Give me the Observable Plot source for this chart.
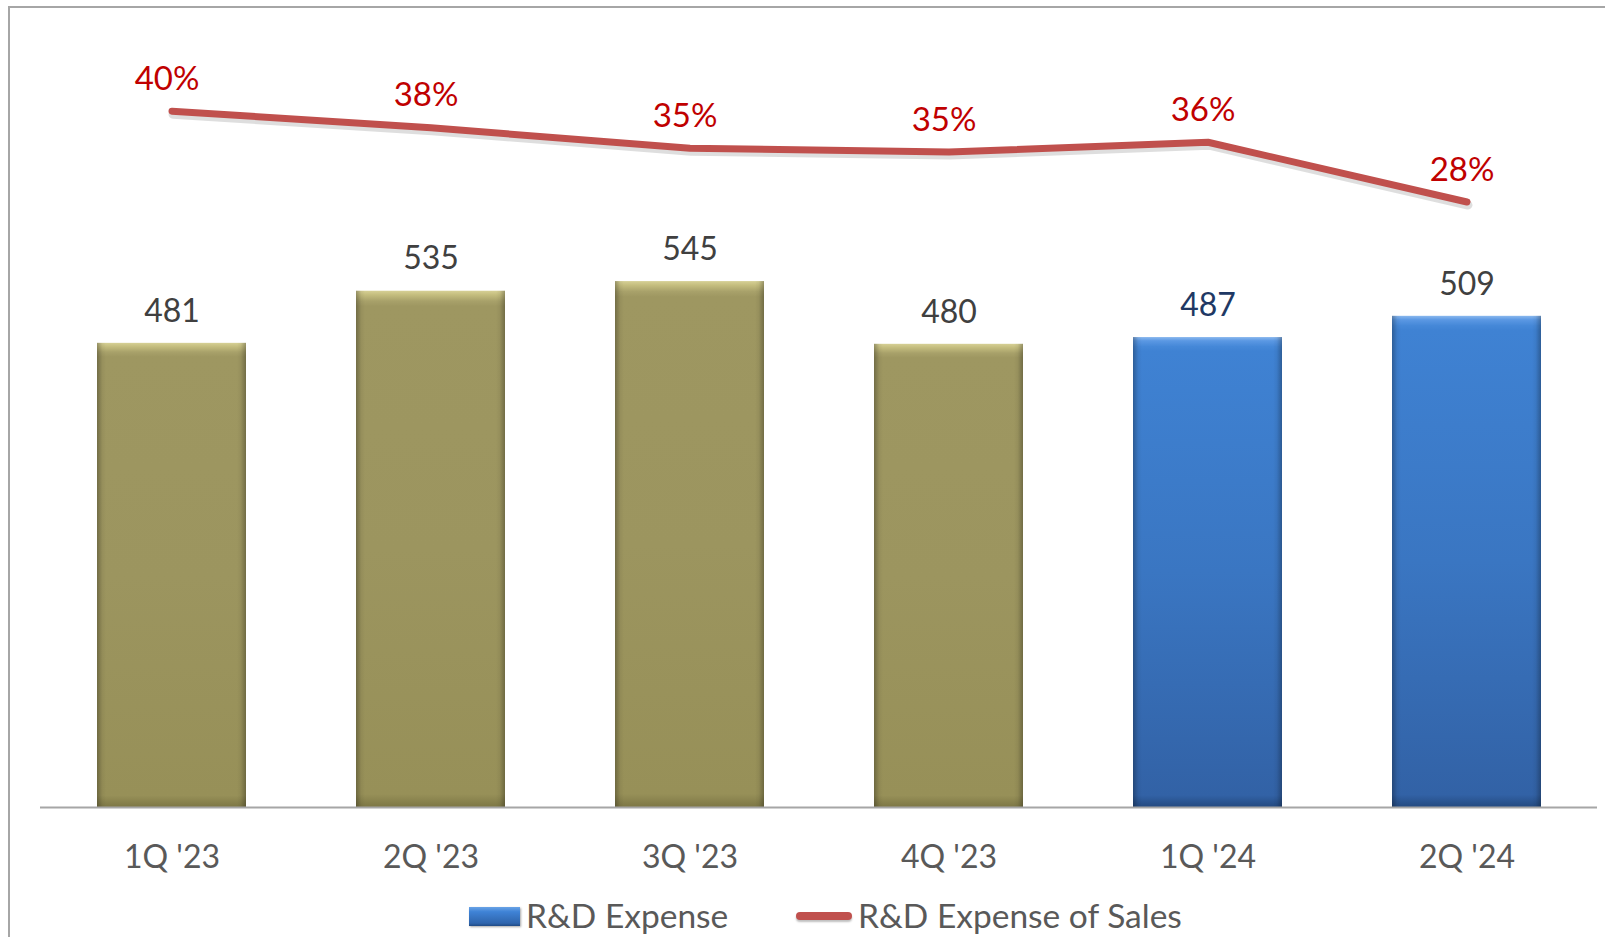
<!DOCTYPE html>
<html>
<head>
<meta charset="utf-8">
<script src="https://cdn.jsdelivr.net/npm/d3@7"></script>
<script src="https://cdn.jsdelivr.net/npm/@observablehq/plot@0.6"></script>
<style>
  html, body { margin: 0; padding: 0; background: #fff; overflow: hidden; width: 1605px; height: 937px; }
  #frame { position: absolute; left: 8px; top: 6px; width: 1700px; height: 1000px; border-left: 2px solid #a6a6a6; border-top: 2px solid #a6a6a6; }
  #chart { position: absolute; left: 0; top: 0; }
  .leg { position: absolute; font-family: Lato, "Open Sans", sans-serif; font-size: 33.5px; color: #595959; line-height: 1; white-space: nowrap; }
  .sw-bar { position: absolute; width: 51px; height: 19px; background: linear-gradient(#6aa3e6 0%, #3f83d6 25%, #2f65ad 85%, #1f4a85 100%); box-shadow: 1px 1px 2px rgba(0,0,0,0.35); }
  .sw-line { position: absolute; width: 56px; height: 8px; border-radius: 4px; background: #c0504d; box-shadow: 0 2px 2px rgba(0,0,0,0.25); }
</style>
</head>
<body>
<div id="frame"></div>
<div id="chart"></div>
<div class="sw-bar" style="left:469px; top:907px;"></div>
<div class="leg" style="left:526px; top:899px;">R&amp;D Expense</div>
<div class="sw-line" style="left:796px; top:912px;"></div>
<div class="leg" style="left:858px; top:899px;">R&amp;D Expense of Sales</div>
<script>
// ---- data ----
const categories = ["1Q '23", "2Q '23", "3Q '23", "4Q '23", "1Q '24", "2Q '24"];
const years = ["2023", "2023", "2023", "2023", "2024", "2024"];
const rdExpense = [481, 535, 545, 480, 487, 509];
const rdPctOfSales = [40.0, 37.8, 35.1, 34.6, 35.9, 28.0];
const pctLabels = ["40%", "38%", "35%", "35%", "36%", "28%"];

const rows = categories.map((c, i) => ({
  cat: c, year: years[i], value: rdExpense[i], pct: rdPctOfSales[i], pctLabel: pctLabels[i]
}));

// secondary (percent) axis mapped onto the primary value axis
const yDomain = [0, 800];
const pctAxis = d3.scaleLinear().domain([-52, 50]).range(yDomain);

const olive = rows.filter(d => d.year === "2023");
const blue = rows.filter(d => d.year === "2024");

const plot = Plot.plot({
  width: 1605,
  height: 885,
  marginLeft: 40,
  marginRight: 8,
  marginTop: 35,
  marginBottom: 78,
  style: { fontFamily: "Lato, 'Open Sans', sans-serif", color: "#595959", background: "transparent", overflow: "visible" },
  x: { domain: categories, paddingInner: 0.425, paddingOuter: 0.2125, label: null },
  y: { domain: yDomain, axis: null },
  marks: [
    Plot.barY(olive, { x: "cat", y: "value", fill: "url(#gOlive)", ariaLabel: "bars-olive" }),
    Plot.barY(blue, { x: "cat", y: "value", fill: "url(#gBlue)", ariaLabel: "bars-blue" }),
    Plot.barY(rows, { x: "cat", y: "value", fill: "url(#gSides)" }),
    Plot.ruleY([0], { stroke: "#a6a6a6", strokeWidth: 2 }),
    Plot.axisX({ tickSize: 0, tickPadding: 38, fontSize: 32, fill: "#595959" }),
    Plot.text(rows, {
      x: "cat", y: "value", text: d => String(d.value), dy: -32,
      fontSize: 32, fill: d => d.cat === "1Q '24" ? "#203864" : "#404040"
    }),
    Plot.lineY(rows, {
      x: "cat", y: d => pctAxis(d.pct), stroke: "#000000", strokeOpacity: 0.13, strokeWidth: 9,
      strokeLinecap: "round", strokeLinejoin: "round", dy: 3, dx: 1
    }),
    Plot.lineY(rows, {
      x: "cat", y: d => pctAxis(d.pct), stroke: "#c0504d", strokeWidth: 7,
      strokeLinecap: "round", strokeLinejoin: "round"
    }),
    Plot.text(rows, {
      x: "cat", y: d => pctAxis(d.pct), text: "pctLabel", dy: -32, dx: -5,
      fontSize: 33, fill: "#c00000"
    })
  ]
});

const svg = d3.select(plot);
const defs = svg.insert("defs", ":first-child");
function vgrad(id, stops) {
  const g = defs.append("linearGradient").attr("id", id).attr("x1", 0).attr("y1", 0).attr("x2", 0).attr("y2", 1);
  stops.forEach(([o, c]) => g.append("stop").attr("offset", o).attr("stop-color", c));
}
vgrad("gOlive", [["0", "#d6d095"], ["0.008", "#c4bd7e"], ["0.02", "#a8a16a"], ["0.03", "#9e9761"], ["0.5", "#9c955f"], ["0.975", "#979058"], ["1", "#7d7745"]]);
vgrad("gBlue", [["0", "#8ab8ee"], ["0.008", "#5b98e3"], ["0.02", "#4588d8"], ["0.03", "#3f82d3"], ["0.5", "#3a76c2"], ["0.975", "#3262a6"], ["1", "#244a80"]]);
const gs = defs.append("linearGradient").attr("id", "gSides").attr("x1", 0).attr("y1", 0).attr("x2", 1).attr("y2", 0);
[["0", "rgba(0,0,0,0.28)"], ["0.035", "rgba(0,0,0,0.05)"], ["0.06", "rgba(0,0,0,0)"], ["0.94", "rgba(0,0,0,0)"], ["0.965", "rgba(0,0,0,0.05)"], ["1", "rgba(0,0,0,0.28)"]]
  .forEach(([o, c]) => gs.append("stop").attr("offset", o).attr("stop-color", c));

svg.selectAll('g[aria-label="bars-olive"], g[aria-label="bars-blue"]').style("filter", "drop-shadow(2px 2px 2px rgba(0,0,0,0.35))");

document.getElementById("chart").appendChild(plot);
</script>
</body>
</html>
